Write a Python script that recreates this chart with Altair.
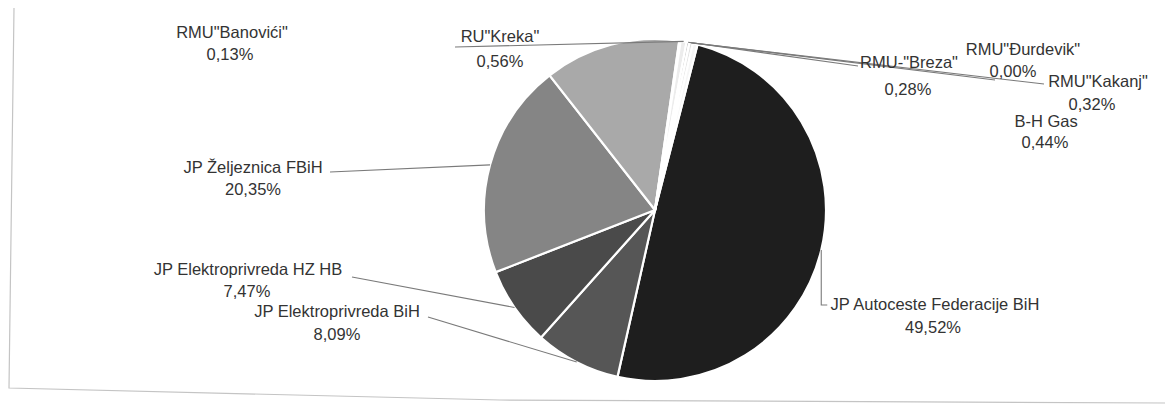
import math
import altair as alt
import pandas as pd

# ---------------- data ----------------
categories = [
    "JP Autoceste Federacije BiH",
    "JP Elektroprivreda BiH",
    "JP Elektroprivreda  HZ HB",
    "JP Željeznica FBiH",
    "",
    'RMU"Banovići"',
    'RU"Kreka"',
    'RMU-"Breza"',
    'RMU"Đurdevik"',
    'RMU"Kakanj"',
    "B-H Gas",
]
values = [49.52, 8.09, 7.47, 20.35, 12.84, 0.13, 0.56, 0.28, 0.00, 0.32, 0.44]

# ---------------- style / layout ----------------
colors = ["#1e1e1e", "#565656", "#4a4a4a", "#858585", "#a9a9a9",
          "#d8d8d8", "#ececec", "#c4c4c4", "#f2f2f2", "#e2e2e2", "#f6f6f6"]
W, H = 1157, 396
OFF = 8
CX, CY, R = 655, 210, 171
START_DEG = 14.4
start = math.radians(START_DEG)

# label positions (screen px): name line and percent line
name_xy = {
    "JP Autoceste Federacije BiH": (935, 305),
    "JP Elektroprivreda BiH": (337, 312),
    "JP Elektroprivreda  HZ HB": (248, 270),
    "JP Željeznica FBiH": (253, 168),
    'RMU"Banovići"': (232, 33),
    'RU"Kreka"': (500, 37),
    'RMU-"Breza"': (909, 63),
    'RMU"Đurdevik"': (1023, 50),
    'RMU"Kakanj"': (1098, 82),
    "B-H Gas": (1046, 122),
}
pct_xy = {
    "JP Autoceste Federacije BiH": (933, 328),
    "JP Elektroprivreda BiH": (337, 335),
    "JP Elektroprivreda  HZ HB": (247, 292),
    "JP Željeznica FBiH": (253, 190),
    'RMU"Banovići"': (230, 55),
    'RU"Kreka"': (500, 62),
    'RMU-"Breza"': (908, 90),
    'RMU"Đurdevik"': (1013, 72),
    'RMU"Kakanj"': (1092, 105),
    "B-H Gas": (1045, 143),
}
# leader line label-side points (screen px)
leader_pts = {
    'RU"Kreka"': [(455, 47)],
    'RMU-"Breza"': [(858, 66)],
    'RMU"Đurdevik"': [(995, 80)],
    'RMU"Kakanj"': [(1044, 84)],
    "JP Željeznica FBiH": [(330, 172)],
    "JP Elektroprivreda  HZ HB": [(352, 277)],
    "JP Elektroprivreda BiH": [(428, 317)],
    "JP Autoceste Federacije BiH": "L",
}

# ---------------- tables ----------------
pie_df = pd.DataFrame({"cat": categories, "value": values, "idx": list(range(len(values)))})

total = sum(values)
mid_pt = {}
cum = 0.0
for c, v in zip(categories, values):
    a = start + (cum + v / 2) / total * 2 * math.pi
    mid_pt[c] = (CX + R * math.sin(a), CY - R * math.cos(a))
    cum += v

def fmt(v):
    return f"{v:.2f}".replace(".", ",") + "%"

text_rows = []
for c, v in zip(categories, values):
    if c not in name_xy:
        continue
    nx, ny = name_xy[c]
    px, py = pct_xy[c]
    text_rows.append({"t": c, "x": nx, "y": ny})
    text_rows.append({"t": fmt(v), "x": px, "y": py})
text_df = pd.DataFrame(text_rows)

line_rows = []
for c, pts in leader_pts.items():
    p0 = mid_pt[c]
    if pts == "L":
        pts = [(p0[0], 305), (p0[0] + 6, 305)]
    seq = [p0] + list(pts)
    for i, (x, y) in enumerate(seq):
        line_rows.append({"k": c, "i": i, "x": x, "y": y})
line_df = pd.DataFrame(line_rows)

frame_df = pd.DataFrame([
    {"k": "f", "i": 0, "x": 14, "y": 8},
    {"k": "f", "i": 1, "x": 9, "y": 388},
    {"k": "f", "i": 2, "x": 500, "y": 400},
    {"k": "f", "i": 3, "x": 1170, "y": 403},
    {"k": "f", "i": 4, "x": 1170, "y": 30},
])

xs = alt.Scale(domain=[OFF, OFF + W], range=[0, W])
ys = alt.Scale(domain=[OFF, OFF + H], range=[0, H])

pie = alt.Chart(pie_df).mark_arc(outerRadius=R, stroke="white", strokeWidth=2.2).encode(
    theta=alt.Theta("value:Q", stack=True,
                    scale=alt.Scale(range=[start, start + 2 * math.pi])),
    color=alt.Color("cat:N", scale=alt.Scale(domain=categories, range=colors), legend=None),
    order=alt.Order("idx:Q"),
    x=alt.value(CX - OFF),
    y=alt.value(CY - OFF),
)

frame = alt.Chart(frame_df).mark_line(color="#c4c4c4", strokeWidth=1.2).encode(
    x=alt.X("x:Q", scale=xs, axis=None),
    y=alt.Y("y:Q", scale=ys, axis=None),
    detail="k:N",
    order="i:Q",
)

leaders = alt.Chart(line_df).mark_line(color="#7a7a7a", strokeWidth=1.1).encode(
    x=alt.X("x:Q", scale=xs, axis=None),
    y=alt.Y("y:Q", scale=ys, axis=None),
    detail="k:N",
    order="i:Q",
)

labels = alt.Chart(text_df).mark_text(
    font="Liberation Sans", fontSize=16.5, color="#333333", align="center", baseline="middle"
).encode(
    x=alt.X("x:Q", scale=xs, axis=None),
    y=alt.Y("y:Q", scale=ys, axis=None),
    text="t:N",
)

chart = alt.layer(frame, pie, leaders, labels).properties(
    width=W, height=H, autosize=alt.AutoSizeParams(type="none"), padding=0,
    background="white",
).configure_view(stroke=None)

chart.save("out.html", embed_options={"renderer": "svg", "actions": False})
